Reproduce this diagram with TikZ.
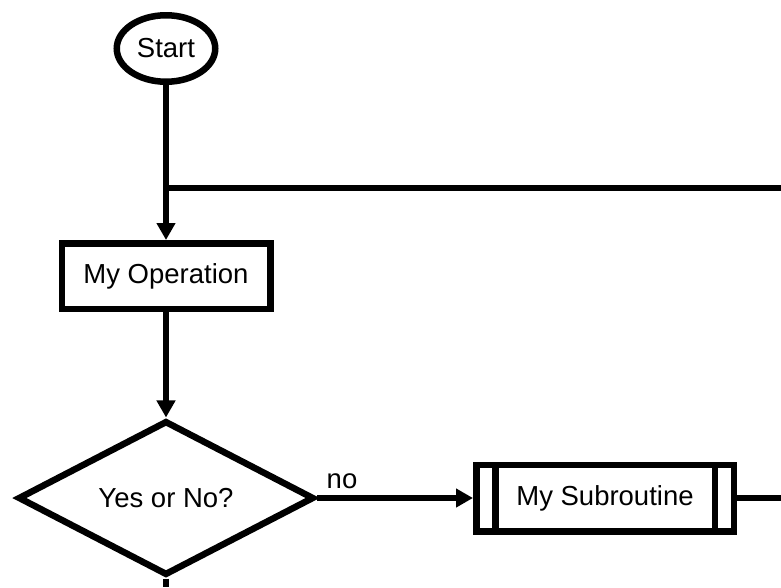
\documentclass[tikz,border=0pt]{standalone}
\usepackage{fontspec}
\setmainfont{Liberation Sans}
\usetikzlibrary{arrows.meta,shapes.geometric}
\begin{document}
\begin{tikzpicture}[x=1pt,y=-1pt,
  every node/.style={font=\fontsize{27.5}{33}\selectfont},
  box/.style={draw,line width=6.5pt,inner sep=0pt},
  flow/.style={line width=6.5pt},
  arr/.style={flow,-{Triangle[length=17pt,width=18pt]}}]
\useasboundingbox (0,0) rectangle (781,587);
\node[box,ellipse,minimum width=98.5pt,minimum height=66.5pt] (start) at (166,48.5) {Start};
\node[box,rectangle,minimum width=208.5pt,minimum height=65.5pt] (op) at (166,276) {My Operation};
\node[box,diamond,minimum width=296pt,minimum height=146pt] (dec) at (166,498) {Yes or No?};
\node[box,rectangle,minimum width=257.5pt,minimum height=66.5pt,
  path picture={
    \draw[line width=6.5pt] ([xshift=19pt]path picture bounding box.north west) -- ([xshift=19pt]path picture bounding box.south west);
    \draw[line width=6.5pt] ([xshift=-19pt]path picture bounding box.north east) -- ([xshift=-19pt]path picture bounding box.south east);
  }] (sub) at (605,498) {My Subroutine};
\node (no) at (342,481) {no};
\coordinate (j) at (166,188);
\coordinate (e1) at (781,188);
\coordinate (e2) at (781,498);
\coordinate (e3) at (166,587);
\draw[arr] (start) -- (op);
\draw[flow] (j) -- (e1);
\draw[arr] (op) -- (dec);
\draw[arr] (dec) -- (sub);
\draw[flow] (sub) -- (e2);
\draw[flow] (dec) -- (e3);
\end{tikzpicture}
\end{document}
